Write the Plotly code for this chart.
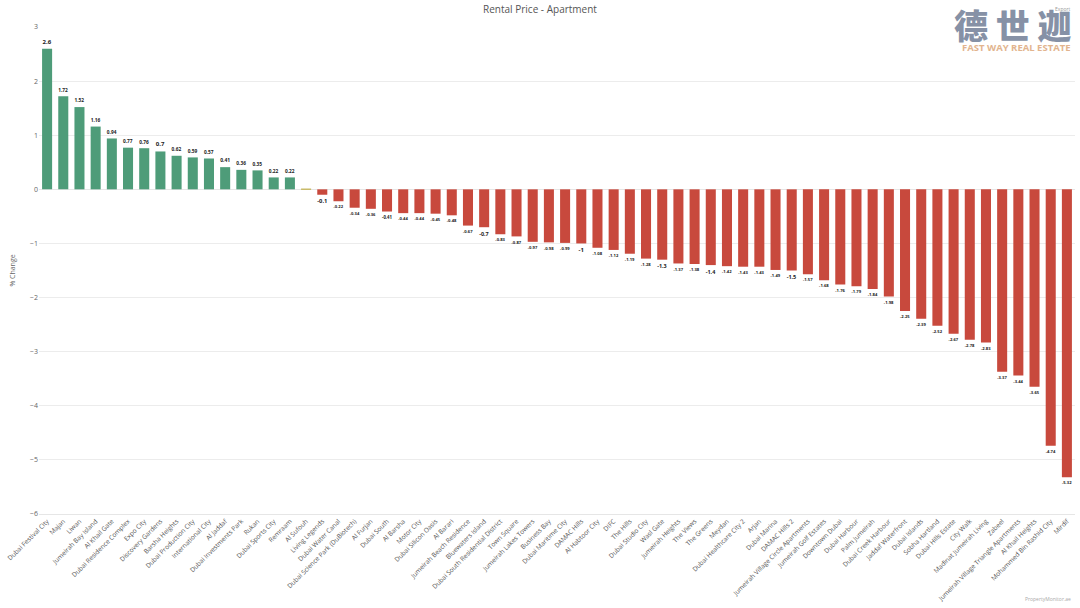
import plotly.graph_objects as go

areas = [
    "Dubai Festival City", "Majan", "Liwan", "Jumeirah Bay Island", "Al Khail Gate",
    "Dubai Residence Complex", "Expo City", "Discovery Gardens", "Barsha Heights",
    "Dubai Production City", "International City", "Al Jaddaf", "Dubai Investments Park",
    "Rukan", "Dubai Sports City", "Remraam", "Al Sufouh", "Living Legends",
    "Dubai Water Canal", "Dubai Science Park (DuBiotech)", "Al Furjan", "Dubai South",
    "Al Barsha", "Motor City", "Dubai Silicon Oasis", "Al Barari",
    "Jumeirah Beach Residence", "Bluewaters Island", "Dubai South Residential District",
    "Town Square", "Jumeirah Lakes Towers", "Business Bay", "Dubai Maritime City",
    "DAMAC Hills", "Al Habtoor City", "DIFC", "The Hills", "Dubai Studio City",
    "Wasl Gate", "Jumeirah Heights", "The Views", "The Greens", "Meydan",
    "Dubai Healthcare City 2", "Arjan", "Dubai Marina", "DAMAC Hills 2",
    "Jumeirah Village Circle Apartments", "Jumeirah Golf Estates", "Downtown Dubai",
    "Dubai Harbour", "Palm Jumeirah", "Dubai Creek Harbour", "Jaddaf Waterfront",
    "Dubai Islands", "Sobha Hartland", "Dubai Hills Estate", "City Walk",
    "Madinat Jumeirah Living", "Zabeel", "Jumeirah Village Triangle Apartments",
    "Al Khail Heights", "Mohammed Bin Rashid City", "Mirdif",
]

pct_change = [
    2.6, 1.72, 1.52, 1.16, 0.94, 0.77, 0.76, 0.7, 0.62, 0.59, 0.57, 0.41, 0.36,
    0.35, 0.22, 0.22, 0, -0.1, -0.22, -0.34, -0.36, -0.41, -0.44, -0.44, -0.45,
    -0.48, -0.67, -0.7, -0.83, -0.87, -0.97, -0.98, -0.99, -1, -1.08, -1.12,
    -1.19, -1.28, -1.3, -1.37, -1.38, -1.4, -1.42, -1.43, -1.43, -1.49, -1.5,
    -1.57, -1.68, -1.76, -1.79, -1.84, -1.98, -2.25, -2.39, -2.52, -2.67, -2.78,
    -2.83, -3.37, -3.44, -3.65, -4.74, -5.32,
]

y_ticks = [3, 2, 1, 0, -1, -2, -3, -4, -5, -6]

GREEN = "#4e9c79"
RED = "#c8493d"
FLAT = "#c9bb6a"

colors = [GREEN if v > 0 else RED if v < 0 else FLAT for v in pct_change]
labels = ["" if v == 0 else f"{v:g}" for v in pct_change]

fig = go.Figure()
fig.add_trace(
    go.Bar(
        x=areas,
        y=pct_change,
        text=labels,
        textposition="outside",
        cliponaxis=False,
        textfont=dict(size=6, color="#222222", family="Open Sans", weight="bold"),
        marker=dict(color=colors, line=dict(color=colors, width=[0 if v else 1.5 for v in pct_change])),
        hovertemplate="<b>%{x}</b><br>Change: %{y}%<extra></extra>",
    )
)

fig.update_layout(
    title=dict(
        text="Rental Price - Apartment",
        x=0.5,
        xanchor="center",
        y=0.985,
        yanchor="middle",
        font=dict(size=10, color="#555555", family="Open Sans"),
    ),
    width=1080,
    height=608,
    margin=dict(l=37, r=5, t=27, b=93),
    plot_bgcolor="white",
    paper_bgcolor="white",
    bargap=0.38,
    showlegend=False,
    font=dict(family="Open Sans", color="#666666"),
    xaxis=dict(
        tickangle=-45,
        tickfont=dict(size=6.5, color="#555555"),
        showgrid=False,
        showline=True,
        linecolor="#e6e6e6",
        ticks="",
    ),
    yaxis=dict(
        title=dict(text="% Change", font=dict(size=7, color="#666666"), standoff=13),
        range=[-6, 3],
        tickvals=y_ticks,
        tickfont=dict(size=7, color="#666666"),
        gridcolor="#ececec",
        zeroline=True,
        zerolinecolor="#e6e6e6",
        zerolinewidth=1,
    ),
)

# logo watermark and source note
fig.add_annotation(
    text="德 世 迦", xref="paper", yref="paper", x=0.9995, y=1.005,
    xanchor="right", yanchor="middle", showarrow=False,
    font=dict(size=34, color="#8691a6", family="Noto Sans CJK SC", weight=900),
)
fig.add_annotation(
    text="FAST WAY REAL ESTATE", xref="paper", yref="paper", x=0.9985, y=0.958,
    xanchor="right", yanchor="middle", showarrow=False,
    font=dict(size=9.5, color="#e2b48e", family="Open Sans", weight="bold"),
)
fig.add_annotation(
    text="Export", xref="paper", yref="paper", x=0.998, y=1.037,
    xanchor="right", yanchor="middle", showarrow=False,
    font=dict(size=5, color="#999999"),
)
fig.add_annotation(
    text="PropertyMonitor.ae", xref="paper", yref="paper", x=0.998, y=-0.175,
    xanchor="right", yanchor="middle", showarrow=False,
    font=dict(size=5, color="#aaaaaa"),
)

fig.write_html(
    "out.html",
    config={"displayModeBar": False},
    post_script="document.body.style.margin='0';",
)
